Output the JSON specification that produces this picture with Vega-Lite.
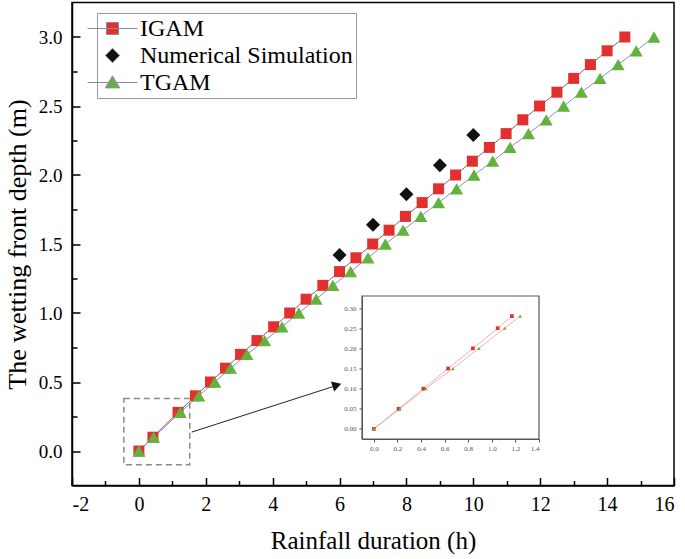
{
  "$schema": "https://vega.github.io/schema/vega-lite/v6.json",
  "width": 602,
  "height": 483,
  "autosize": {"type": "none"},
  "padding": {"left": 72, "top": 2.5, "right": 11, "bottom": 73.5},
  "background": "white",
  "config": {
    "view": {"stroke": "black", "strokeWidth": 1.5},
    "font": "Liberation Serif",
    "style": {"guide-label": {"font": "Liberation Serif"}, "guide-title": {"font": "Liberation Serif"}},
    "axis": {"labelFont": "Liberation Serif", "titleFont": "Liberation Serif", "grid": false, "titleFontWeight": "normal", "labelColor": "black", "titleColor": "black"}
  },
  "datasets": {
    "main": [
      {"series": "IGAM", "t": 0, "depth": 0},
      {"series": "IGAM", "t": 0.42, "depth": 0.1},
      {"series": "IGAM", "t": 1.17, "depth": 0.28},
      {"series": "IGAM", "t": 1.69, "depth": 0.4},
      {"series": "IGAM", "t": 2.14, "depth": 0.5},
      {"series": "IGAM", "t": 2.59, "depth": 0.6},
      {"series": "IGAM", "t": 3.04, "depth": 0.7},
      {"series": "IGAM", "t": 3.53, "depth": 0.8},
      {"series": "IGAM", "t": 4.03, "depth": 0.9},
      {"series": "IGAM", "t": 4.51, "depth": 1.0},
      {"series": "IGAM", "t": 5.0, "depth": 1.1},
      {"series": "IGAM", "t": 5.5, "depth": 1.2},
      {"series": "IGAM", "t": 6.0, "depth": 1.3},
      {"series": "IGAM", "t": 6.49, "depth": 1.4},
      {"series": "IGAM", "t": 6.99, "depth": 1.5},
      {"series": "IGAM", "t": 7.48, "depth": 1.6},
      {"series": "IGAM", "t": 7.97, "depth": 1.7},
      {"series": "IGAM", "t": 8.47, "depth": 1.8},
      {"series": "IGAM", "t": 8.96, "depth": 1.9},
      {"series": "IGAM", "t": 9.47, "depth": 2.0},
      {"series": "IGAM", "t": 9.97, "depth": 2.1},
      {"series": "IGAM", "t": 10.48, "depth": 2.2},
      {"series": "IGAM", "t": 10.98, "depth": 2.3},
      {"series": "IGAM", "t": 11.48, "depth": 2.4},
      {"series": "IGAM", "t": 11.98, "depth": 2.5},
      {"series": "IGAM", "t": 12.5, "depth": 2.6},
      {"series": "IGAM", "t": 13.0, "depth": 2.7},
      {"series": "IGAM", "t": 13.5, "depth": 2.8},
      {"series": "IGAM", "t": 14.0, "depth": 2.9},
      {"series": "IGAM", "t": 14.53, "depth": 3.0},
      {"series": "Numerical Simulation", "t": 6, "depth": 1.42},
      {"series": "Numerical Simulation", "t": 7, "depth": 1.64},
      {"series": "Numerical Simulation", "t": 8, "depth": 1.86},
      {"series": "Numerical Simulation", "t": 9, "depth": 2.07},
      {"series": "Numerical Simulation", "t": 10, "depth": 2.29},
      {"series": "TGAM", "t": 0, "depth": 0},
      {"series": "TGAM", "t": 0.44, "depth": 0.1},
      {"series": "TGAM", "t": 1.24, "depth": 0.28},
      {"series": "TGAM", "t": 1.79, "depth": 0.4},
      {"series": "TGAM", "t": 2.27, "depth": 0.5},
      {"series": "TGAM", "t": 2.74, "depth": 0.6},
      {"series": "TGAM", "t": 3.23, "depth": 0.7},
      {"series": "TGAM", "t": 3.76, "depth": 0.8},
      {"series": "TGAM", "t": 4.28, "depth": 0.9},
      {"series": "TGAM", "t": 4.78, "depth": 1.0},
      {"series": "TGAM", "t": 5.3, "depth": 1.1},
      {"series": "TGAM", "t": 5.8, "depth": 1.2},
      {"series": "TGAM", "t": 6.33, "depth": 1.3},
      {"series": "TGAM", "t": 6.85, "depth": 1.4},
      {"series": "TGAM", "t": 7.37, "depth": 1.5},
      {"series": "TGAM", "t": 7.9, "depth": 1.6},
      {"series": "TGAM", "t": 8.43, "depth": 1.7},
      {"series": "TGAM", "t": 8.96, "depth": 1.8},
      {"series": "TGAM", "t": 9.5, "depth": 1.9},
      {"series": "TGAM", "t": 10.02, "depth": 2.0},
      {"series": "TGAM", "t": 10.58, "depth": 2.1},
      {"series": "TGAM", "t": 11.1, "depth": 2.2},
      {"series": "TGAM", "t": 11.65, "depth": 2.3},
      {"series": "TGAM", "t": 12.18, "depth": 2.4},
      {"series": "TGAM", "t": 12.7, "depth": 2.5},
      {"series": "TGAM", "t": 13.23, "depth": 2.6},
      {"series": "TGAM", "t": 13.79, "depth": 2.7},
      {"series": "TGAM", "t": 14.33, "depth": 2.8},
      {"series": "TGAM", "t": 14.87, "depth": 2.9},
      {"series": "TGAM", "t": 15.4, "depth": 3.0}
    ],
    "inset": [
      {"series": "IGAM", "t": 0, "depth": 0},
      {"series": "IGAM", "t": 0.21, "depth": 0.05},
      {"series": "IGAM", "t": 0.42, "depth": 0.1},
      {"series": "IGAM", "t": 0.63, "depth": 0.15},
      {"series": "IGAM", "t": 0.84, "depth": 0.2},
      {"series": "IGAM", "t": 1.05, "depth": 0.25},
      {"series": "IGAM", "t": 1.17, "depth": 0.28},
      {"series": "TGAM", "t": 0, "depth": 0},
      {"series": "TGAM", "t": 0.22, "depth": 0.05},
      {"series": "TGAM", "t": 0.44, "depth": 0.1},
      {"series": "TGAM", "t": 0.67, "depth": 0.15},
      {"series": "TGAM", "t": 0.89, "depth": 0.2},
      {"series": "TGAM", "t": 1.11, "depth": 0.25},
      {"series": "TGAM", "t": 1.24, "depth": 0.28}
    ]
  },
  "layer": [
    {
      "layer": [
        {
          "data": {"name": "main"},
          "transform": [{"filter": "datum.series === 'IGAM'"}],
          "mark": {"type": "line", "color": "#806868", "strokeWidth": 1},
          "encoding": {
            "x": {
              "field": "t", "type": "quantitative",
              "scale": {"domain": [-2, 16], "nice": false, "zero": false},
              "axis": {
                "orient": "bottom", "values": [-2, 0, 2, 4, 6, 8, 10, 12, 14, 16],
                "labelExpr": "'' + datum.value",
                "tickSize": -8, "tickWidth": 1.5, "tickColor": "black",
                "domainColor": "black", "domainWidth": 1.5,
                "labelFont": "Liberation Serif", "labelFontSize": 20, "labelPadding": 17,
                "title": "Rainfall duration (h)", "titleFont": "Liberation Serif", "titleFontSize": 25, "titlePadding": 14
              }
            },
            "y": {
              "field": "depth", "type": "quantitative",
              "scale": {"domain": [-0.25, 3.25], "nice": false, "zero": false},
              "axis": {
                "orient": "left", "values": [0, 0.5, 1, 1.5, 2, 2.5, 3], "format": ".1f",
                "tickSize": -8, "tickWidth": 1.5, "tickColor": "black",
                "domainColor": "black", "domainWidth": 1.5,
                "labelFont": "Liberation Serif", "labelFontSize": 19, "labelPadding": 18,
                "title": "The wetting front depth (m)", "titleFont": "Liberation Serif", "titleFontSize": 26, "titlePadding": 8
              }
            }
          }
        },
        {
          "data": {"name": "main"},
          "transform": [{"filter": "datum.series === 'TGAM'"}],
          "mark": {"type": "line", "color": "#8393bb", "strokeWidth": 1},
          "encoding": {
            "x": {"field": "t", "type": "quantitative"},
            "y": {"field": "depth", "type": "quantitative"}
          }
        },
        {
          "data": {"values": [{"k": "box"}]},
          "mark": {"type": "rect", "fillOpacity": 0, "stroke": "#8a8a8a", "strokeWidth": 1.5, "strokeDash": [6, 4]},
          "encoding": {"x": {"datum": -0.45}, "x2": {"datum": 1.52}, "y": {"datum": -0.1}, "y2": {"datum": 0.38}}
        },
        {
          "data": {"name": "main"},
          "mark": {"type": "point", "filled": true, "opacity": 1},
          "encoding": {
            "x": {"field": "t", "type": "quantitative"},
            "y": {"field": "depth", "type": "quantitative"},
            "color": {
              "field": "series", "type": "nominal",
              "scale": {"domain": ["IGAM", "Numerical Simulation", "TGAM"], "range": ["#e3302f", "#111111", "#63b23d"]}
            },
            "shape": {
              "condition": [
                {"test": "datum.series === 'IGAM'", "value": "square"},
                {"test": "datum.series === 'TGAM'", "value": "triangle-up"}
              ],
              "value": "diamond"
            },
            "size": {
              "condition": [
                {"test": "datum.series === 'IGAM'", "value": 121},
                {"test": "datum.series === 'TGAM'", "value": 170}
              ],
              "value": 196
            }
          }
        },
        {
          "data": {"name": "main"},
          "transform": [{"filter": "false"}],
          "mark": {"type": "point", "filled": true, "opacity": 1, "size": 576},
          "encoding": {
            "x": {"field": "t", "type": "quantitative"},
            "y": {"field": "depth", "type": "quantitative"},
            "color": {
              "field": "series", "type": "nominal",
              "scale": {"domain": ["IGAM", "Numerical Simulation", "TGAM"], "range": ["#e3302f", "#111111", "#63b23d"]},
              "legend": {
                "orient": "none", "legendX": 25, "legendY": 10.5, "title": null,
                "labelFont": "Liberation Serif", "labelFontSize": 24, "labelColor": "black", "labelLimit": 400,
                "symbolSize": 576, "symbolStrokeColor": "#8a8a9a", "symbolStrokeWidth": 1, "symbolOpacity": 1,
                "labelOffset": 15, "padding": 3, "rowPadding": 2,
                "strokeColor": "#999", "fillColor": "white"
              }
            },
            "shape": {
              "field": "series", "type": "nominal",
              "scale": {
                "domain": ["IGAM", "Numerical Simulation", "TGAM"],
                "range": ["M-2.08,0H2.08M-0.5,-0.5H0.5V0.5H-0.5Z", "M0,-0.6L0.6,0L0,0.6L-0.6,0Z", "M-2.08,0H2.08M0,-0.55L0.6,0.45H-0.6Z"]
              },
              "legend": {
                "orient": "none", "legendX": 25, "legendY": 10.5, "title": null,
                "labelFont": "Liberation Serif", "labelFontSize": 24, "labelColor": "black", "labelLimit": 400,
                "symbolSize": 576, "symbolStrokeColor": "#8a8a9a", "symbolStrokeWidth": 1, "symbolOpacity": 1,
                "labelOffset": 15, "padding": 3, "rowPadding": 2,
                "strokeColor": "#999", "fillColor": "white"
              }
            }
          }
        },
        {
          "data": {"values": [{"k": "arrow"}]},
          "mark": {"type": "rule", "color": "#222", "strokeWidth": 1},
          "encoding": {"x": {"datum": 1.58}, "x2": {"datum": 5.95}, "y": {"datum": 0.137}, "y2": {"datum": 0.478}}
        },
        {
          "data": {"values": [{"k": "head"}]},
          "mark": {"type": "point", "shape": "triangle-right", "filled": true, "color": "#111", "size": 110, "angle": -18, "opacity": 1},
          "encoding": {"x": {"datum": 5.92}, "y": {"datum": 0.478}}
        }
      ]
    },
    {
      "data": {"name": "main"},
      "mark": {"type": "point", "opacity": 0},
      "encoding": {
        "x": {
          "field": "t", "type": "quantitative",
          "scale": {"domain": [-2, 16], "nice": false, "zero": false},
          "axis": {"orient": "bottom", "values": [-1, 1, 3, 5, 7, 9, 11, 13, 15], "labels": false, "domain": false, "title": null, "tickSize": -5, "tickWidth": 1.5, "tickColor": "black"}
        },
        "y": {
          "field": "depth", "type": "quantitative",
          "scale": {"domain": [-0.25, 3.25], "nice": false, "zero": false},
          "axis": {"orient": "left", "values": [0.25, 0.75, 1.25, 1.75, 2.25, 2.75], "labels": false, "domain": false, "title": null, "tickSize": -5, "tickWidth": 1.5, "tickColor": "black"}
        }
      }
    },
    {
      "layer": [
        {
          "data": {"values": [{"k": "frame"}]},
          "mark": {"type": "rect", "fillOpacity": 0, "stroke": "#555", "strokeWidth": 1.2},
          "encoding": {
            "x": {"datum": -0.1, "type": "quantitative", "scale": {"domain": [-0.1, 1.4], "range": [290, 467], "nice": false, "zero": false},
              "axis": {
                "orient": "bottom", "offset": -46.5, "values": [0, 0.2, 0.4, 0.6, 0.8, 1.0, 1.2, 1.4], "format": ".1f",
                "labelFont": "Liberation Serif", "labelFontSize": 7, "labelColor": "#555", "labelPadding": 2, "tickSize": 3, "tickColor": "#555", "domainColor": "#555",
                "title": null, "zindex": 1
              }
            },
            "x2": {"datum": 1.4},
            "y": {"datum": -0.025, "type": "quantitative", "scale": {"domain": [-0.025, 0.33], "range": [436.5, 293.5], "nice": false, "zero": false},
              "axis": {
                "orient": "left", "offset": -290, "values": [0, 0.05, 0.1, 0.15, 0.2, 0.25, 0.3], "format": ".2f",
                "labelFont": "Liberation Serif", "labelFontSize": 7, "labelColor": "#555", "labelPadding": 3, "tickSize": 3, "tickColor": "#555", "domainColor": "#555",
                "title": null, "zindex": 1
              }
            },
            "y2": {"datum": 0.33}
          }
        },
        {
          "data": {"name": "inset"},
          "transform": [{"filter": "datum.series === 'IGAM'"}],
          "mark": {"type": "line", "color": "#e9a0a0", "strokeWidth": 0.8},
          "encoding": {"x": {"field": "t", "type": "quantitative"}, "y": {"field": "depth", "type": "quantitative"}}
        },
        {
          "data": {"name": "inset"},
          "transform": [{"filter": "datum.series === 'TGAM'"}],
          "mark": {"type": "line", "color": "#e9a0a0", "strokeWidth": 0.8},
          "encoding": {"x": {"field": "t", "type": "quantitative"}, "y": {"field": "depth", "type": "quantitative"}}
        },
        {
          "data": {"name": "inset"},
          "mark": {"type": "point", "filled": true, "opacity": 1, "size": 14},
          "encoding": {
            "x": {"field": "t", "type": "quantitative"},
            "y": {"field": "depth", "type": "quantitative"},
            "color": {"field": "series", "type": "nominal"},
            "shape": {
              "condition": {"test": "datum.series === 'IGAM'", "value": "square"},
              "value": "triangle-up"
            }
          }
        }
      ]
    }
  ],
  "resolve": {
    "scale": {"x": "independent", "y": "independent"},
    "axis": {"x": "independent", "y": "independent"}
  }
}
